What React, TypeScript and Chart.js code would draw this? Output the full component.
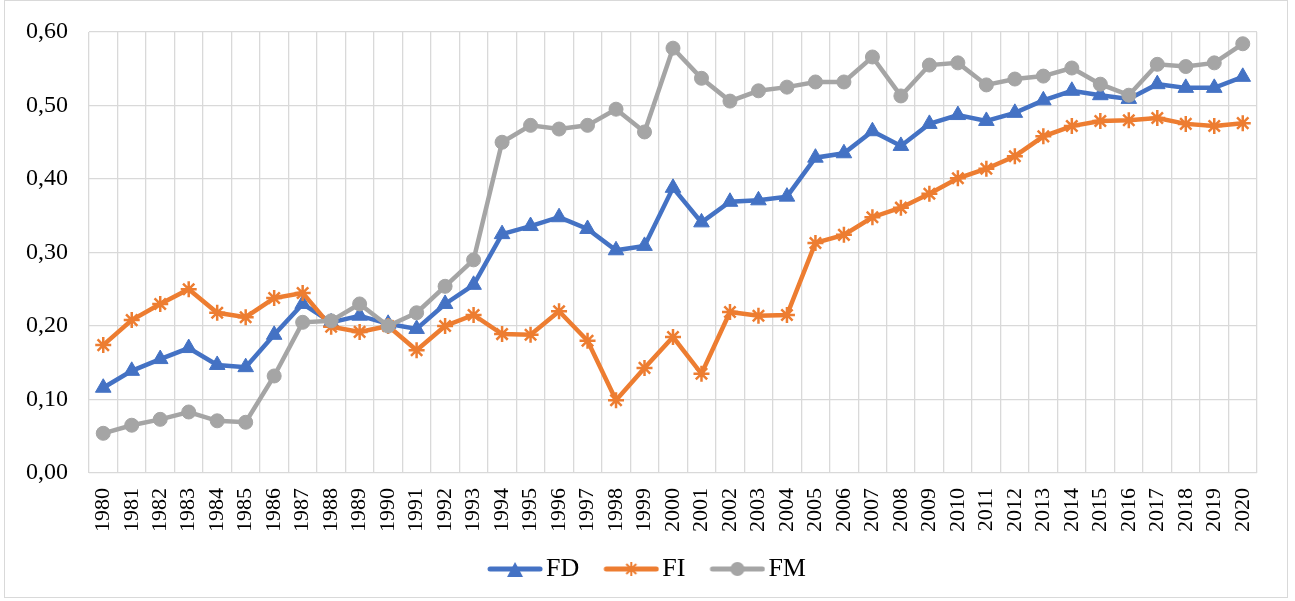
import React, { useEffect, useRef } from 'react';
import { Chart, registerables } from 'chart.js';

Chart.register(...registerables);

const years = [
  '1980', '1981', '1982', '1983', '1984', '1985', '1986', '1987', '1988', '1989',
  '1990', '1991', '1992', '1993', '1994', '1995', '1996', '1997', '1998', '1999',
  '2000', '2001', '2002', '2003', '2004', '2005', '2006', '2007', '2008', '2009',
  '2010', '2011', '2012', '2013', '2014', '2015', '2016', '2017', '2018', '2019', '2020',
];

const fdValues = [
  0.116, 0.139, 0.155, 0.170, 0.147, 0.144, 0.188, 0.230, 0.205, 0.214,
  0.203, 0.196, 0.230, 0.256, 0.325, 0.336, 0.348, 0.332, 0.303, 0.309,
  0.388, 0.341, 0.369, 0.371, 0.376, 0.429, 0.435, 0.465, 0.445, 0.475,
  0.487, 0.479, 0.490, 0.507, 0.520, 0.514, 0.509, 0.529, 0.524, 0.524, 0.539,
];

const fiValues = [
  0.174, 0.208, 0.230, 0.250, 0.218, 0.212, 0.238, 0.245, 0.199, 0.192,
  0.200, 0.167, 0.200, 0.215, 0.189, 0.188, 0.220, 0.180, 0.099, 0.143,
  0.185, 0.135, 0.219, 0.214, 0.215, 0.313, 0.324, 0.348, 0.361, 0.380,
  0.401, 0.414, 0.431, 0.458, 0.472, 0.479, 0.480, 0.483, 0.475, 0.472, 0.476,
];

const fmValues = [
  0.054, 0.065, 0.073, 0.083, 0.071, 0.069, 0.132, 0.205, 0.207, 0.230,
  0.200, 0.218, 0.254, 0.290, 0.450, 0.473, 0.468, 0.473, 0.495, 0.464,
  0.578, 0.537, 0.506, 0.520, 0.525, 0.532, 0.532, 0.566, 0.513, 0.555,
  0.558, 0.528, 0.536, 0.540, 0.551, 0.529, 0.514, 0.556, 0.553, 0.558, 0.584,
];

const seriesNames = ['FD', 'FI', 'FM'];
const seriesColors = ['#4472C4', '#ED7D31', '#A5A5A5'];

const FONT = '"Liberation Serif", "Times New Roman", serif';

function makeLegendIcon(color: string, kind: string): HTMLCanvasElement {
  const c = document.createElement('canvas');
  c.width = 80;
  c.height = 20;
  const ctx = c.getContext('2d')!;
  ctx.strokeStyle = color;
  ctx.fillStyle = color;
  ctx.lineWidth = 5;
  ctx.lineCap = 'round';
  ctx.beginPath();
  ctx.moveTo(27, 10);
  ctx.lineTo(77, 10);
  ctx.stroke();
  const cx = 52;
  const cy = 10;
  if (kind === 'triangle') {
    ctx.beginPath();
    ctx.moveTo(cx, cy - 7);
    ctx.lineTo(cx + 8, cy + 8);
    ctx.lineTo(cx - 8, cy + 8);
    ctx.closePath();
    ctx.fill();
  } else if (kind === 'star') {
    ctx.lineWidth = 2;
    ctx.lineCap = 'butt';
    for (let k = 0; k < 4; k++) {
      const a = (k * Math.PI) / 4;
      ctx.beginPath();
      ctx.moveTo(cx + Math.cos(a) * 7, cy + Math.sin(a) * 7);
      ctx.lineTo(cx - Math.cos(a) * 7, cy - Math.sin(a) * 7);
      ctx.stroke();
    }
  } else {
    ctx.beginPath();
    ctx.arc(cx, cy, 7, 0, Math.PI * 2);
    ctx.fill();
  }
  return c;
}

const frame = {
  id: 'frame',
  beforeDraw(chart: any) {
    const ctx = chart.ctx;
    ctx.save();
    ctx.fillStyle = '#ffffff';
    ctx.fillRect(0, 0, chart.width, chart.height);
    ctx.strokeStyle = '#d9d9d9';
    ctx.lineWidth = 1;
    ctx.strokeRect(4.5, 0.5, 1283, 597);
    ctx.restore();
  },
};

export default function App() {
  const ref = useRef<HTMLCanvasElement>(null);

  useEffect(() => {
    if (!ref.current) return;
    const kinds = ['triangle', 'star', 'circle'];
    const icons = seriesColors.map((c, i) => makeLegendIcon(c, kinds[i]));
    const values = [fdValues, fiValues, fmValues];

    const chart = new Chart(ref.current, {
      type: 'line',
      data: {
        labels: years,
        datasets: seriesNames.map((name, i) => ({
          label: name,
          data: values[i],
          borderColor: seriesColors[i],
          backgroundColor: seriesColors[i],
          borderWidth: 4.5,
          tension: 0,
          pointStyle: kinds[i] as any,
          pointRadius: i === 0 ? 9 : i === 1 ? 8 : 7,
          pointBorderWidth: i === 1 ? 2.5 : 1,
          pointBackgroundColor: seriesColors[i],
          pointBorderColor: seriesColors[i],
          order: 3 - i,
        })),
      },
      options: {
        animation: false,
        responsive: false,
        layout: { padding: { top: 32, right: 38, bottom: 9, left: 22 } },
        scales: {
          x: {
            offset: true,
            grid: { offset: true, color: '#d9d9d9', lineWidth: 1.3, drawTicks: false },
            border: { display: false },
            ticks: {
              autoSkip: false,
              maxRotation: 90,
              minRotation: 90,
              padding: 15,
              color: '#000',
              font: { family: FONT, size: 22 },
            },
            afterFit(scale: any) {
              scale.height = 73;
              scale.paddingLeft = 0;
              scale.paddingRight = 0;
            },
          },
          y: {
            min: 0,
            max: 0.6,
            grid: { color: '#d9d9d9', lineWidth: 1.3, drawTicks: false },
            border: { display: false },
            ticks: {
              stepSize: 0.1,
              padding: 21,
              color: '#000',
              font: { family: FONT, size: 24 },
              callback: (v: any) => Number(v).toFixed(2).replace('.', ','),
            },
            afterFit(scale: any) {
              scale.width = 67;
              scale.paddingTop = 0;
              scale.paddingBottom = 0;
            },
          },
        },
        plugins: {
          legend: {
            position: 'bottom',
            labels: {
              usePointStyle: true,
              pointStyleWidth: 60,
              padding: 10,
              color: '#000',
              font: { family: FONT, size: 26 },
              generateLabels: (ch: any) => {
                const base = Chart.defaults.plugins.legend.labels.generateLabels(ch);
                return base
                  .sort((a: any, b: any) => a.datasetIndex - b.datasetIndex)
                  .map((it: any) => ({ ...it, pointStyle: icons[it.datasetIndex] }));
              },
            },
          },
          tooltip: { enabled: false },
        },
      },
      plugins: [frame],
    });
    return () => chart.destroy();
  }, []);

  return (
    <div style={{ position: 'absolute', left: 0, top: 0, width: 1295, height: 601, background: '#fff' }}>
      <canvas ref={ref} width={1295} height={601} style={{ display: 'block' }} />
    </div>
  );
}
